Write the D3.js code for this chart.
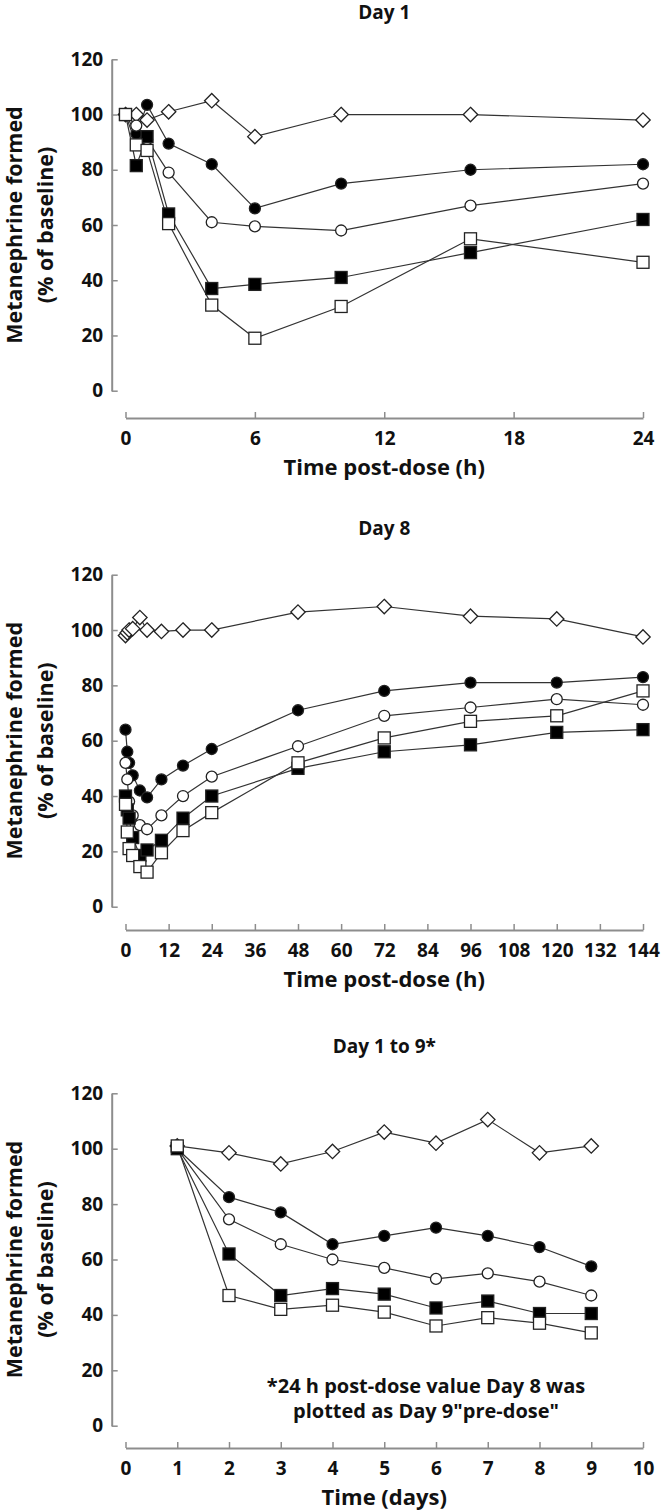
<!DOCTYPE html>
<html><head><meta charset="utf-8">
<script src="https://cdn.jsdelivr.net/npm/d3@7"></script>
<style>
body{margin:0;background:#fff}
text{font-family:"Open Sans",sans-serif;font-weight:700;fill:#111}
</style>
</head><body>
<svg id="c" width="664" height="1512"></svg>
<script>
// ---------- DATA ----------
const seriesKinds = ["diamondOpen","circleFilled","circleOpen","squareFilled","squareOpen"];

const day1Times = [0,0.5,1,2,4,6,10,16,24];
const day1DiamondOpen  = [100,100,98,101,105,92,100,100,98];
const day1CircleFilled = [100,93,103.5,89.5,82,66,75,80,82];
const day1CircleOpen   = [100,96,91,79,61,59.5,58,67,75];
const day1SquareFilled = [100,81.5,92,64,37,38.5,41,50,62];
const day1SquareOpen   = [100,89,87,60.5,31,19,30.5,55,46.5];
const day1XTicks = [0,6,12,18,24];

const day8Times = [0,0.5,1,2,4,6,10,16,24,48,72,96,120,144];
const day8DiamondOpen  = [98,99,100,100.5,104.5,100,99.5,100,100,106.5,108.5,105,104,97.5];
const day8CircleFilled = [64,56,52,47.5,42,39.5,46,51,57,71,78,81,81,83];
const day8CircleOpen   = [52,46,38,33,29.5,28,33,40,47,58,69,72,75,73];
const day8SquareFilled = [40,35,32,25,18.5,20.5,24,32,40,50,56,58.5,63,64];
const day8SquareOpen   = [37,27,21,18.5,14.5,12.5,19.5,27.5,34,52,61,67,69,78];
const day8XTicks = [0,12,24,36,48,60,72,84,96,108,120,132,144];

const daysTimes = [1,2,3,4,5,6,7,8,9];
const daysDiamondOpen  = [101,98.5,94.5,99,106,102,110.5,98.5,101];
const daysCircleFilled = [100,82.5,77,65.5,68.5,71.5,68.5,64.5,57.5];
const daysCircleOpen   = [100,74.5,65.5,60,57,53,55,52,47];
const daysSquareFilled = [100,62,47,49.5,47.5,42.5,45,40.5,40.5];
const daysSquareOpen   = [101,47,42,43.5,41,36,39,37,33.5];
const daysXTicks = [0,1,2,3,4,5,6,7,8,9,10];

const yTicks = [0,20,40,60,80,100,120];
const yTitleLines = ["Metanephrine formed","(% of baseline)"];
const titles = ["Day 1","Day 8","Day 1 to 9*"];
const xTitles = ["Time post-dose (h)","Time post-dose (h)","Time (days)"];
const noteLines = ["*24 h post-dose value Day 8 was","plotted as Day 9\"pre-dose\""];

// ---------- LAYOUT ----------
const svg = d3.select("#c");
svg.append("rect").attr("width",664).attr("height",1512).attr("fill","#fff");

const X0 = 125.5, X1 = 643, YAXIS_X = 111.7;
const AXIS_COLOR = "#8d8d8d";

const panels = [
  {title:titles[0], xTitle:xTitles[0], times:day1Times, xMax:24, xTicks:day1XTicks,
   series:[day1DiamondOpen,day1CircleFilled,day1CircleOpen,day1SquareFilled,day1SquareOpen],
   yBottom:390.7, yTop:59.3, axisY:418},
  {title:titles[1], xTitle:xTitles[1], times:day8Times, xMax:144, xTicks:day8XTicks,
   series:[day8DiamondOpen,day8CircleFilled,day8CircleOpen,day8SquareFilled,day8SquareOpen],
   yBottom:906.7, yTop:574.7, axisY:930},
  {title:titles[2], xTitle:xTitles[2], times:daysTimes, xMax:10, xTicks:daysXTicks,
   series:[daysDiamondOpen,daysCircleFilled,daysCircleOpen,daysSquareFilled,daysSquareOpen],
   yBottom:1425.7, yTop:1093.3, axisY:1448, note:true}
];

function drawMarker(g, kind, x, y){
  if(kind==="diamondOpen"){
    const s=7.2;
    g.append("path").attr("d",`M${x},${y-s}L${x+s},${y}L${x},${y+s}L${x-s},${y}Z`)
      .attr("fill","#fff").attr("stroke","#222").attr("stroke-width",1.3);
  } else if(kind.startsWith("circle")){
    g.append("circle").attr("cx",x).attr("cy",y).attr("r",5.5)
      .attr("fill",kind==="circleFilled"?"#000":"#fff").attr("stroke","#222").attr("stroke-width",1.3);
  } else {
    const h=6;
    g.append("rect").attr("x",x-h).attr("y",y-h).attr("width",2*h).attr("height",2*h)
      .attr("fill",kind==="squareFilled"?"#000":"#fff").attr("stroke","#222").attr("stroke-width",1.3);
  }
}

panels.forEach(p=>{
  const g = svg.append("g");
  const x = d3.scaleLinear().domain([0,p.xMax]).range([X0,X1]);
  const y = d3.scaleLinear().domain([0,120]).range([p.yBottom,p.yTop]);

  const ya = g.append("g").attr("transform",`translate(${YAXIS_X},0)`)
    .call(d3.axisLeft(y).tickValues(yTicks).tickSizeInner(-6).tickSizeOuter(0).tickPadding(8.5));
  const xa = g.append("g").attr("transform",`translate(0,${p.axisY})`)
    .call(d3.axisBottom(x).tickValues(p.xTicks).tickSizeInner(-6).tickSizeOuter(0).tickPadding(14));
  [ya,xa].forEach(a=>{
    a.select(".domain").attr("stroke",AXIS_COLOR).attr("stroke-width",2);
    a.selectAll(".tick line").attr("stroke",AXIS_COLOR).attr("stroke-width",1.5);
    a.selectAll(".tick text").attr("font-family","Open Sans").attr("font-weight",700)
      .attr("font-size",19).attr("fill","#111");
  });

  g.append("text").attr("x",(X0+X1)/2).attr("y",p.yTop-40).attr("text-anchor","middle")
    .attr("font-size",19).text(p.title);
  g.append("text").attr("x",(X0+X1)/2).attr("y",p.axisY+57).attr("text-anchor","middle")
    .attr("font-size",22).text(p.xTitle);
  const cy = (p.yTop+p.yBottom)/2;
  yTitleLines.forEach((t,i)=>{
    g.append("text").attr("transform",`translate(${i===0?22:53},${cy}) rotate(-90)`)
      .attr("text-anchor","middle").attr("font-size",21.5).text(t);
  });

  const line = d3.line().x((d,i)=>x(p.times[i])).y(d=>y(d));
  p.series.forEach(s=>{
    g.append("path").attr("d",line(s)).attr("fill","none").attr("stroke","#333").attr("stroke-width",1.2);
  });
  p.series.forEach((s,k)=>{
    s.forEach((v,i)=>drawMarker(g, seriesKinds[k], x(p.times[i]), y(v)));
  });

  if(p.note){
    noteLines.forEach((t,i)=>{
      g.append("text").attr("x",426).attr("y",1393+i*25).attr("text-anchor","middle")
        .attr("font-size",20).text(t);
    });
  }
});
</script>
</body></html>
